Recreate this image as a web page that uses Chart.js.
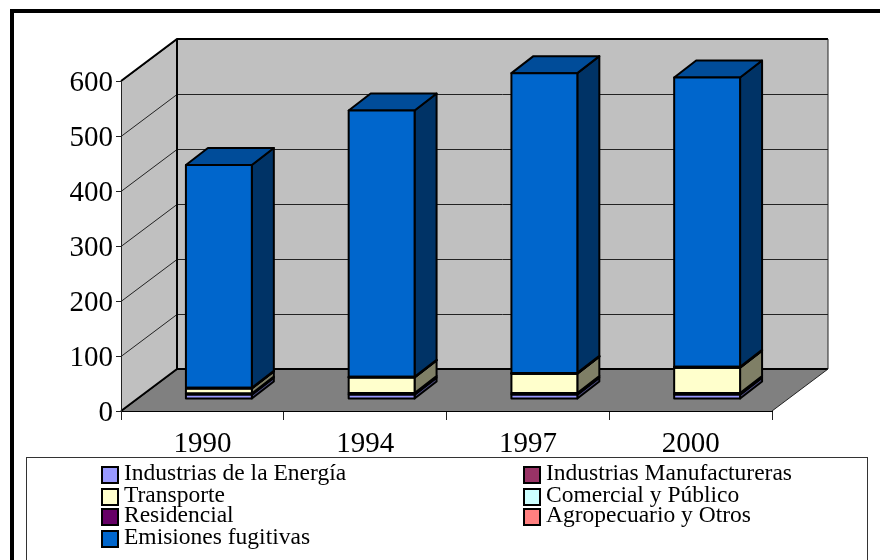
<!DOCTYPE html>
<html><head><meta charset="utf-8">
<style>html,body{margin:0;padding:0;background:#fff;overflow:hidden}canvas{display:block}</style>
<script src="https://cdn.jsdelivr.net/npm/chart.js@4/dist/chart.umd.min.js"></script>
</head><body><div style="width:880px;height:560px"><canvas id="c" width="880" height="560"></canvas></div>
<script>
const categories = ['1990','1994','1997','2000'];
const seriesNames = ['Industrias de la Energía','Industrias Manufactureras','Transporte','Comercial y Público','Residencial','Agropecuario y Otros','Emisiones fugitivas'];
const energia = [8,8,8,8];
const manufactureras = [2,3,3,3];
const transporte = [9,28,35,46];
const comercial = [0.5,0.5,0.5,0.5];
const residencial = [0.5,0.5,0.5,0.5];
const agropecuario = [0.5,0.5,0.5,0.5];
const fugitivas = [405,484,545,526];
const seriesValues = [energia,manufactureras,transporte,comercial,residencial,agropecuario,fugitivas];
const seriesColors = ['#9999FF','#993366','#FFFFCC','#CCFFFF','#660066','#FF8080','#0066CC'];
const yTicks = [0,100,200,300,400,500,600];

const serif = '"Liberation Serif"';
const wallDepth = {x:56,y:-42};
const barOffset = {x:16.5,y:-12};
const barDepth = {x:22,y:-17};

function shade(hex,f){
  const n=parseInt(hex.slice(1),16);
  return `rgb(${((n>>16)&255)*f|0},${((n>>8)&255)*f|0},${(n&255)*f|0})`;
}
function poly(ctx,pts,fill,stroke,lw){
  ctx.beginPath();pts.forEach((p,i)=>i?ctx.lineTo(p[0],p[1]):ctx.moveTo(p[0],p[1]));ctx.closePath();
  if(fill){ctx.fillStyle=fill;ctx.fill();}
  if(stroke){ctx.strokeStyle=stroke;ctx.lineWidth=lw;ctx.lineJoin='round';ctx.stroke();}
}
const frame3d = {
  id:'frame3d',
  beforeDraw(chart){
    const {ctx,chartArea:a,scales:{y}}=chart;
    const d=wallDepth;
    ctx.save();
    ctx.fillStyle='#fff';ctx.fillRect(0,0,880,560);
    ctx.strokeStyle='#000';ctx.lineWidth=4;
    ctx.beginPath();ctx.moveTo(12,562);ctx.lineTo(12,11);ctx.lineTo(882,11);ctx.stroke();
    poly(ctx,[[a.left+d.x,a.top+d.y],[a.right+d.x,a.top+d.y],[a.right+d.x,a.bottom+d.y],[a.left+d.x,a.bottom+d.y]],'#C0C0C0');
    poly(ctx,[[a.left,a.top],[a.left+d.x,a.top+d.y],[a.left+d.x,a.bottom+d.y],[a.left,a.bottom]],'#C0C0C0');
    poly(ctx,[[a.left,a.bottom],[a.left+d.x,a.bottom+d.y],[a.right+d.x,a.bottom+d.y],[a.right,a.bottom]],'#808080');
    ctx.strokeStyle='#222';ctx.lineWidth=1;
    yTicks.forEach(v=>{
      const p=Math.round(y.getPixelForValue(v))+.5;
      ctx.beginPath();ctx.moveTo(a.left,p);ctx.lineTo(a.left+d.x,p+d.y);ctx.lineTo(a.right+d.x,p+d.y);ctx.stroke();
    });
    ctx.strokeStyle='#000';ctx.lineWidth=2;
    ctx.beginPath();
    ctx.moveTo(a.left,a.top);ctx.lineTo(a.left+d.x,a.top+d.y);ctx.lineTo(a.right+d.x,a.top+d.y);
    ctx.moveTo(a.left+d.x,a.top+d.y);ctx.lineTo(a.left+d.x,a.bottom+d.y);ctx.lineTo(a.right+d.x,a.bottom+d.y);
    ctx.moveTo(a.left+d.x,a.bottom+d.y);ctx.lineTo(a.left,a.bottom);ctx.stroke();
    ctx.lineWidth=1;ctx.strokeStyle='#222';
    ctx.beginPath();ctx.moveTo(a.right+d.x,a.top+d.y);ctx.lineTo(a.right+d.x,a.bottom+d.y);ctx.lineTo(a.right,a.bottom);ctx.stroke();
    ctx.restore();
  },
  beforeDatasetsDraw(chart){
    const {ctx}=chart;
    ctx.save();
    ctx.translate(barOffset.x,barOffset.y);
    const b=barDepth;
    chart.data.datasets.forEach((ds,i)=>{
      chart.getDatasetMeta(i).data.forEach(el=>{
        const l=el.x-el.width/2,r=el.x+el.width/2;
        poly(ctx,[[r,el.y],[r+b.x,el.y+b.y],[r+b.x,el.base+b.y],[r,el.base]],shade(seriesColors[i],.5),'#000',2);
        if(i===chart.data.datasets.length-1)
          poly(ctx,[[l,el.y],[l+b.x,el.y+b.y],[r+b.x,el.y+b.y],[r,el.y]],shade(seriesColors[i],.75),'#000',2);
      });
    });
  },
  afterDatasetsDraw(chart){
    const {ctx}=chart;
    ctx.strokeStyle='#000';ctx.lineWidth=2;
    chart.data.datasets.forEach((ds,i)=>{
      chart.getDatasetMeta(i).data.forEach(el=>{
        ctx.strokeRect(el.x-el.width/2,el.y,el.width,el.base-el.y);
      });
    });
    ctx.restore();
    drawLegend(chart);
  }
};
const legendCols=[101,523];
const legendRows=[480,502,522,544];
const legendOrder=[[0,0,0],[1,1,0],[2,0,1],[3,1,1],[4,0,2],[5,1,2],[6,0,3]];
function drawLegend(chart){
  const {ctx}=chart;
  ctx.save();
  ctx.fillStyle='#fff';ctx.fillRect(27,457,841,110);
  ctx.strokeStyle='#333';ctx.lineWidth=1;ctx.strokeRect(26.5,457.5,841,110);
  ctx.font='23.5px '+serif;ctx.textBaseline='alphabetic';ctx.textAlign='left';
  legendOrder.forEach(([i,c,r])=>{
    const x=legendCols[c],y=legendRows[r];
    ctx.fillStyle=seriesColors[i];ctx.fillRect(x+1,y-13,16,16);
    ctx.strokeStyle='#000';ctx.lineWidth=2;ctx.strokeRect(x+1,y-13,16,16);
    ctx.fillStyle='#000';ctx.fillText(seriesNames[i],x+23,y);
  });
  ctx.restore();
}
new Chart(document.getElementById('c'),{
  type:'bar',
  data:{labels:categories,datasets:seriesNames.map((n,i)=>({label:n,data:seriesValues[i],backgroundColor:seriesColors[i],borderWidth:0,clip:false,barPercentage:.405,categoryPercentage:1}))},
  options:{
    responsive:false,animation:false,
    layout:{padding:{left:0,top:81,right:108,bottom:102}},
    plugins:{legend:{display:false},tooltip:{enabled:false},title:{display:false}},
    scales:{
      x:{stacked:true,afterFit(s){s.height=47;},grid:{display:true,drawOnChartArea:false,drawTicks:true,tickLength:9,color:'#222',offset:true},border:{color:'#000',width:1},
        ticks:{color:'#000',font:{family:serif,size:29},padding:7,maxRotation:0}},
      y:{stacked:true,min:0,max:600,afterFit(s){s.width=121;},
        grid:{drawOnChartArea:false,drawTicks:true,tickLength:5,color:'#222'},border:{color:'#222',width:1},
        ticks:{stepSize:100,color:'#000',font:{family:serif,size:29},padding:3,labelOffset:2}}
    }
  },
  plugins:[frame3d]
});
</script></body></html>
